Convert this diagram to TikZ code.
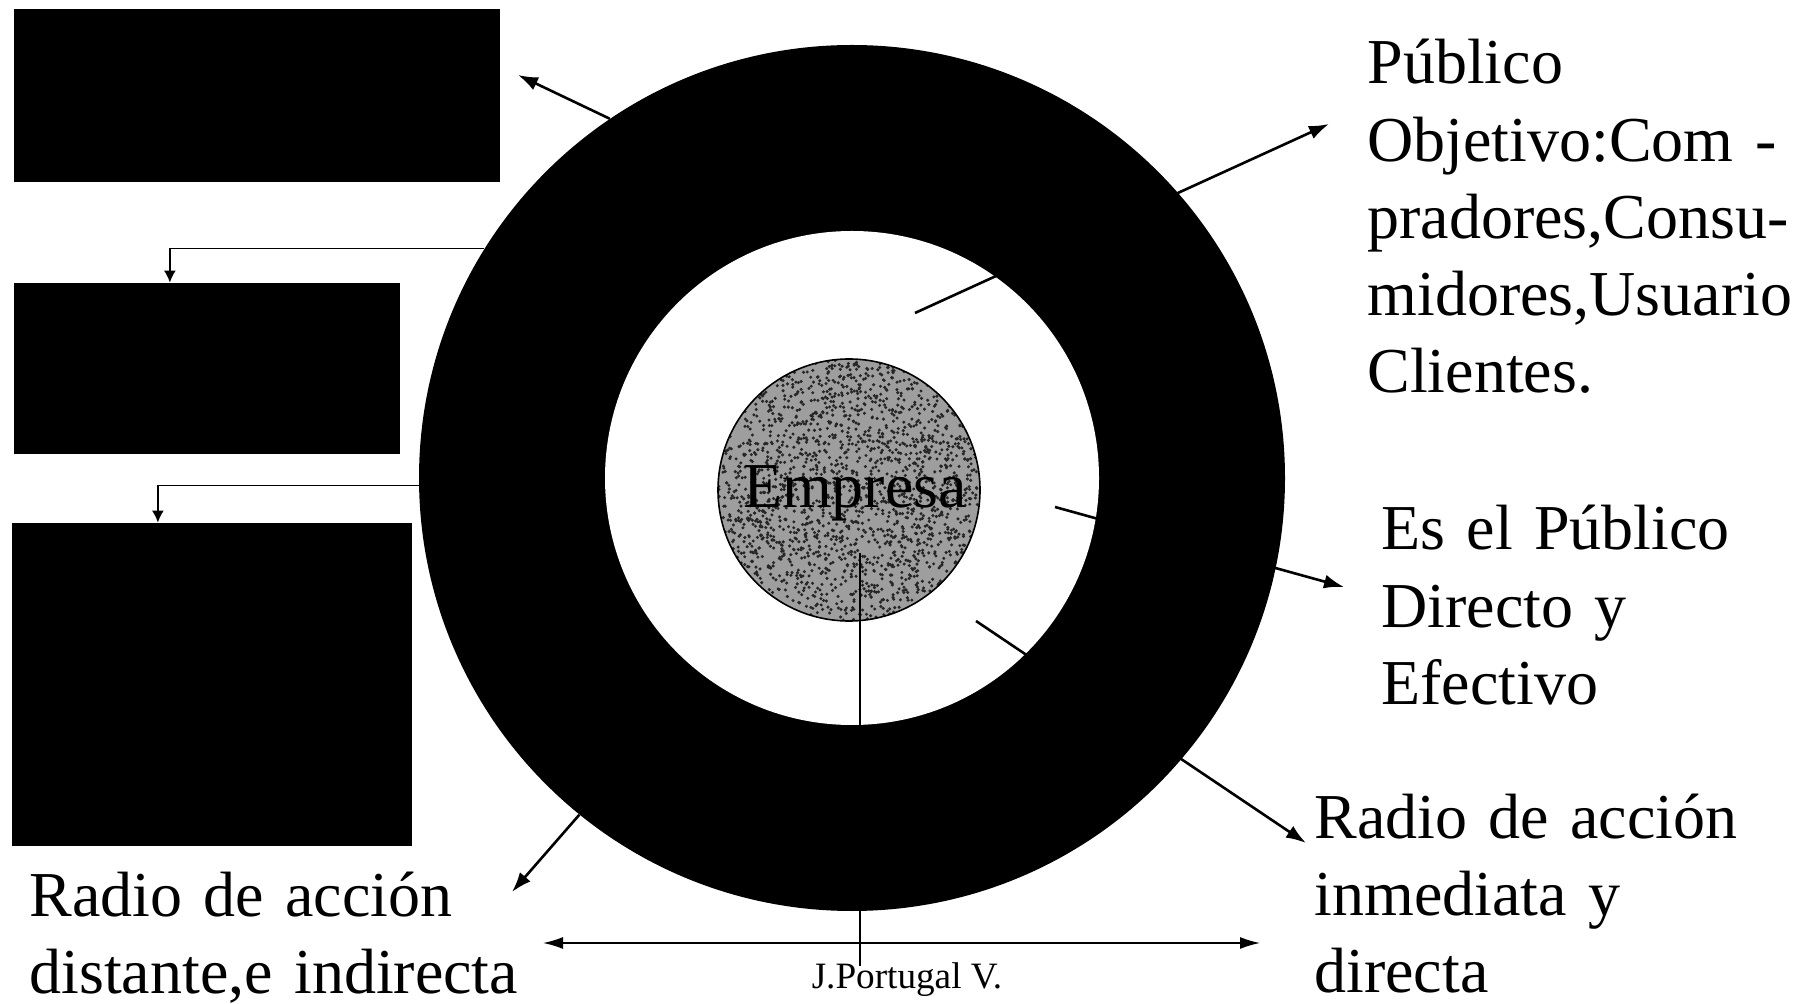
\documentclass[tikz,border=0pt]{standalone}
\usepackage{fontspec}
\setmainfont{Liberation Serif}
\usetikzlibrary{arrows.meta,calc}
\newcommand\mybigfont{\fontsize{32}{38.6}\selectfont\spaceskip=0.2em\relax\xspaceskip=0.2em\relax}
\begin{document}
\begin{tikzpicture}[x=0.5pt,y=-0.5pt,
  bigarrow/.style={line width=1.3pt,-{Latex[length=10pt,width=7pt]}},
  elbow/.style={line width=0.8pt,-{Latex[length=6pt,width=6pt]}},
  dimarrow/.style={line width=0.8pt,{Latex[length=10pt,width=6pt]}-{Latex[length=10pt,width=6pt]}},
  thinline/.style={line width=0.8pt},
  darkbox/.style={fill=black,draw=none,inner sep=0pt,rectangle},
  bigtext/.style={font=\mybigfont,inner sep=0pt,anchor=base west,align=left,text width=262pt},
  speck/.style={fill=black!85},
]
\useasboundingbox[fill=white] (0,0) rectangle (1804,1004);

% circles
\node[circle,fill=black,inner sep=0pt,minimum size=433pt] (outer) at (852,478) {};
\node[circle,fill=white,inner sep=0pt,minimum size=247pt] (inner) at (852,478) {};
\node[circle,fill=black!38,inner sep=0pt,minimum size=131pt] (emp) at (849,490) {};
\begin{scope}
  \clip (849,490) circle (131);
  \pgfmathsetseed{7}
  \foreach \i in {1,...,1800} {
    \pgfmathsetmacro\rr{131*sqrt(rnd)}
    \pgfmathsetmacro\aa{360*rnd}
    \fill[speck] ($(849,490)+(\aa:\rr)$) circle (1.7);
  }
\end{scope}
\draw[line width=0.8pt] (emp.center) circle (131);
\node[font=\fontsize{32}{38}\selectfont,anchor=base,inner sep=0pt] (emptext) at (855,508) {Empresa};

% dark boxes
\node[darkbox,minimum width=243pt,minimum height=86.5pt] (rect1) at (257,95.5) {};
\node[darkbox,minimum width=193pt,minimum height=85.5pt] (rect2) at (207,368.5) {};
\node[darkbox,minimum width=200pt,minimum height=161.5pt] (rect3) at (212,684.5) {};

% texts
\node[bigtext] (pub) at (1367,84) {Público\\Objetivo:Com -\\pradores,Consu-\\midores,Usuario\\Clientes.};
\node[bigtext] (esel) at (1381,550) {Es el Público\\Directo y\\Efectivo};
\node[bigtext] (radr) at (1314,838) {Radio de acción\\inmediata y\\directa};
\node[bigtext] (radl) at (29,916) {Radio de acción\\distante,e indirecta};
\node[font=\fontsize{18.6}{20}\selectfont,anchor=base,inner sep=0pt] (author) at (907,988) {J.Portugal V.};

% free ends
\coordinate (t1) at (518,75);
\coordinate (s2) at (915,313);
\coordinate (t2) at (1329,124);
\coordinate (s3) at (1055,507);
\coordinate (t3) at (1344,587);
\coordinate (s4) at (976,621);
\coordinate (t4) at (1306,843);
\coordinate (t5) at (512,892);
\coordinate (dl) at (543,943);
\coordinate (dr) at (1260,943);
\coordinate (vtop) at (860,553);
\coordinate (vbot) at (860,966);

% connectors
\draw[elbow] (outer.148) -| ($(rect2.north west)!0.404!(rect2.north east)$);
\draw[elbow] (outer.181.7) -| ($(rect3.north west)!0.365!(rect3.north east)$);
\draw[bigarrow] (outer.124.8) -- (t1);
\draw[bigarrow] (s2) -- (t2);
\draw[bigarrow] (s3) -- (t3);
\draw[bigarrow] (s4) -- (t4);
\draw[bigarrow] (outer.231.8) -- (t5);
\draw[dimarrow] (dl) -- (dr);
\draw[thinline] (vtop) -- (vbot);
\end{tikzpicture}
\end{document}
